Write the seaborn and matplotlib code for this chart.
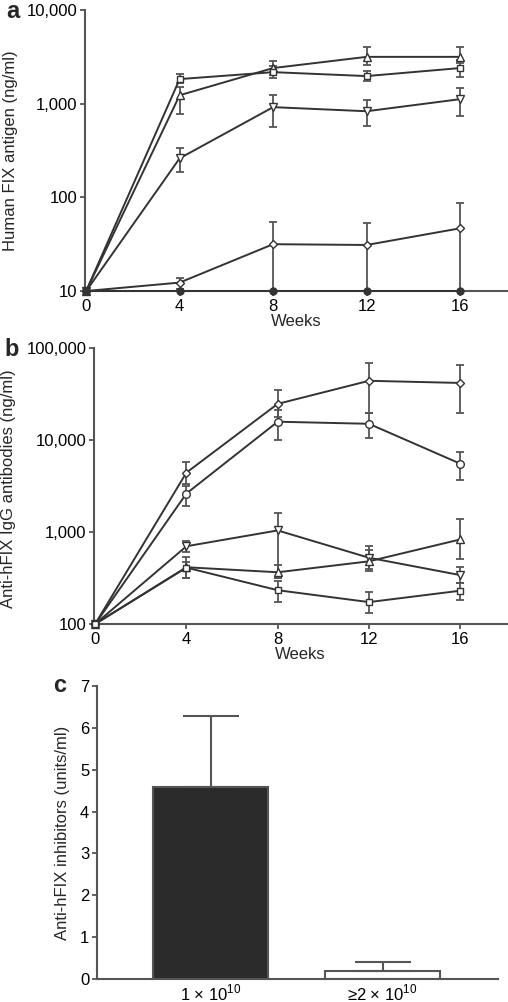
import numpy as np
import pandas as pd
import matplotlib
matplotlib.use("Agg")
import matplotlib.pyplot as plt
from matplotlib.ticker import FuncFormatter, NullLocator, FixedLocator
import seaborn as sns

# --- veriler ---
weeks = [0, 4, 8, 12, 16]

# a: human FIX antigen (ng/ml)
a_square = [10, 1830, 2170, 1970, 2400]
a_square_lo = [10, 1650, 1880, 1740, 1920]
a_square_hi = [10, 2050, 2500, 2240, 2900]
a_triup = [10, 1230, 2400, 3160, 3160]
a_triup_lo = [10, 770, 2000, 2600, 2700]
a_triup_hi = [10, 1500, 2850, 4000, 4000]
a_tridn = [10, 261, 918, 830, 1117]
a_tridn_lo = [10, 188, 560, 576, 740]
a_tridn_hi = [10, 333, 1230, 1100, 1460]
a_diam = [10, 12.3, 31.6, 31, 46.7]
a_diam_lo = [10, 10.5, 10, 10, 10]
a_diam_hi = [10, 13.6, 54, 53, 87]
a_filled = [10, 10, 10, 10, 10]

# b: anti-hFIX IgG (ng/ml)
b_diam = [100, 4420, 24700, 44000, 41700]
b_diam_lo = [100, 3300, 18000, 19800, 19800]
b_diam_hi = [100, 5800, 35000, 69000, 66000]
b_circ = [100, 2620, 15800, 15000, 5530]
b_circ_lo = [100, 1900, 10000, 10500, 3640]
b_circ_hi = [100, 3200, 21000, 19800, 7400]
b_tridn = [100, 700, 1040, 525, 340]
b_tridn_lo = [100, 600, 320, 400, 280]
b_tridn_hi = [100, 790, 1590, 700, 420]
b_triup = [100, 414, 365, 480, 830]
b_triup_lo = [100, 315, 320, 380, 505]
b_triup_hi = [100, 530, 435, 640, 1380]
b_square = [100, 410, 233, 173, 230]
b_square_lo = [100, 315, 173, 133, 183]
b_square_hi = [100, 470, 293, 222, 280]

# c: inhibitors
doz = ["1 × 10$^{10}$", "≥2 × 10$^{10}$"]
inhib = [4.58, 0.2]
inhib_err = [1.70, 0.2]

koyu = "#333333"
gri = "#555555"

sns.set_style("ticks")
plt.rcParams["font.family"] = ["Liberation Sans", "DejaVu Sans"]
plt.rcParams["mathtext.fontset"] = "custom"
plt.rcParams["mathtext.rm"] = "Liberation Sans"
plt.rcParams["font.size"] = 12

W, H = 508, 1002
fig = plt.figure(figsize=(W / 100, H / 100), dpi=100)


def kutu(sol, sag, ust, alt):
    return [sol / W, 1 - alt / H, (sag - sol) / W, (alt - ust) / H]


ax_a = fig.add_axes(kutu(85, 508, 10, 291))
ax_b = fig.add_axes(kutu(94, 507, 348, 624))
ax_c = fig.add_axes(kutu(97, 498, 686, 979))


def seri_ciz(ax, y, lo, hi, m, ms=5.5, dolu=False):
    y = np.array(y, dtype=float)
    lo = np.array(lo, dtype=float)
    hi = np.array(hi, dtype=float)
    ax.errorbar(weeks[1:], y[1:], yerr=[y[1:] - lo[1:], hi[1:] - y[1:]],
                fmt="none", ecolor=gri, elinewidth=1.3, capsize=3.2,
                capthick=1.3, zorder=2, clip_on=False)
    sns.lineplot(x=weeks, y=y, ax=ax, color=koyu, lw=1.4, marker=m,
                 markersize=ms, markerfacecolor=koyu if dolu else "white",
                 markeredgecolor=koyu, markeredgewidth=1.0, zorder=3,
                 clip_on=False, legend=False)


def eksen_duzenle(ax, ylo, yhi, ylabel, lx, ly):
    ax.set_yscale("log")
    ax.set_ylim(ylo, yhi)
    ax.set_xlim(-0.05, 18.05)
    ax.yaxis.set_major_locator(FixedLocator([10 ** k for k in range(int(np.log10(ylo)), int(np.log10(yhi)) + 1)]))
    ax.yaxis.set_minor_locator(NullLocator())
    ax.yaxis.set_major_formatter(FuncFormatter(lambda v, p: format(int(round(v)), ",")))
    ax.set_xticks(weeks)
    ax.set_xlabel("Weeks", labelpad=0)
    ax.set_ylabel(ylabel)
    ax.yaxis.set_label_coords(lx, ly)
    sns.despine(ax=ax)
    for s in ["left", "bottom"]:
        ax.spines[s].set_color(gri)
        ax.spines[s].set_linewidth(1.5)
    ax.tick_params(axis="both", colors=gri, labelcolor="black", width=1.3,
                   length=3.5, pad=2, labelsize=12)


# ---- a ----
seri_ciz(ax_a, a_diam, a_diam_lo, a_diam_hi, "D", ms=4.5)
seri_ciz(ax_a, a_tridn, a_tridn_lo, a_tridn_hi, "v")
seri_ciz(ax_a, a_triup, a_triup_lo, a_triup_hi, "^")
seri_ciz(ax_a, a_square, a_square_lo, a_square_hi, "s", ms=5)
seri_ciz(ax_a, a_filled, a_filled, a_filled, "o", ms=5, dolu=True)
eksen_duzenle(ax_a, 10, 10000, "Human FIX antigen (ng/ml)", -0.158, 0.5)

# ---- b ----
seri_ciz(ax_b, b_diam, b_diam_lo, b_diam_hi, "D", ms=4.5)
seri_ciz(ax_b, b_circ, b_circ_lo, b_circ_hi, "o")
seri_ciz(ax_b, b_tridn, b_tridn_lo, b_tridn_hi, "v")
seri_ciz(ax_b, b_triup, b_triup_lo, b_triup_hi, "^")
seri_ciz(ax_b, b_square, b_square_lo, b_square_hi, "s", ms=5)
eksen_duzenle(ax_b, 100, 100000, "Anti-hFIX IgG antibodies (ng/ml)", -0.188, 0.49)

# ---- c ----
df_c = pd.DataFrame({"doz": doz, "deger": inhib})
sns.barplot(data=df_c, x="doz", y="deger", hue="doz", palette=["#2b2b2b", "white"],
            edgecolor=gri, linewidth=1.5, width=0.67, legend=False, ax=ax_c)
ax_c.errorbar([0, 1], inhib, yerr=[[0, 0], inhib_err], fmt="none", ecolor=gri,
              elinewidth=1.5, capsize=20, capthick=1.5, zorder=1)
ax_c.set_xlim(-0.66, 1.67)
ax_c.set_ylim(0, 7)
ax_c.set_yticks(range(8))
ax_c.set_xlabel("")
ax_c.set_ylabel("Anti-hFIX inhibitors (units/ml)")
ax_c.yaxis.set_label_coords(-0.067, 0.5)
sns.despine(ax=ax_c)
for s in ["left", "bottom"]:
    ax_c.spines[s].set_color(gri)
    ax_c.spines[s].set_linewidth(1.5)
ax_c.tick_params(axis="y", colors=gri, labelcolor="black", width=1.3, length=3.5, pad=2, labelsize=12)
ax_c.tick_params(axis="x", length=0, pad=3, labelcolor="black", labelsize=12)

# panel harfleri
fig.text(13 / W, 1 - 12 / H, "a", fontsize=17, fontweight="bold", ha="center", va="center")
fig.text(12 / W, 1 - 350 / H, "b", fontsize=17, fontweight="bold", ha="center", va="center")
fig.text(60 / W, 1 - 686 / H, "c", fontsize=17, fontweight="bold", ha="center", va="center")

fig.savefig("out.png", dpi=100)
